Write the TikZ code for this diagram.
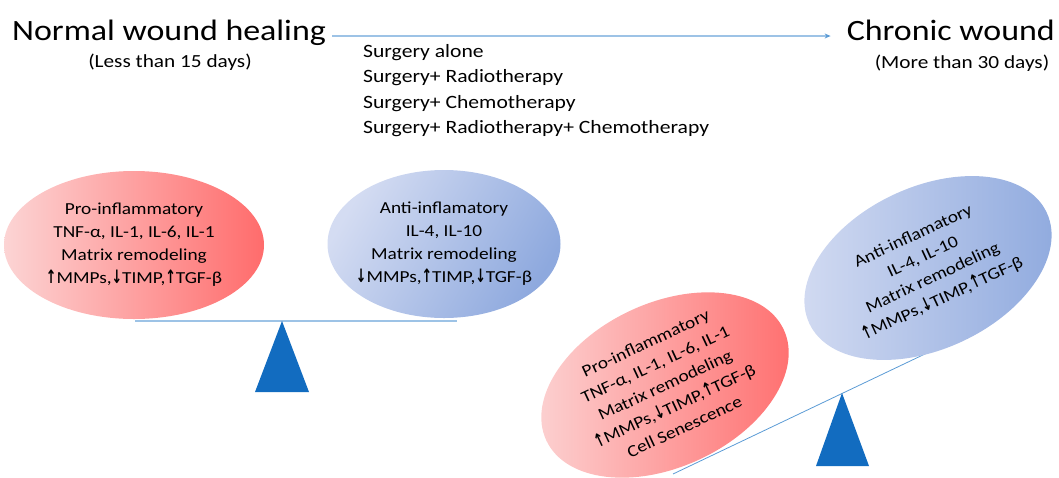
\documentclass[tikz,border=0pt]{standalone}
\usepackage{fontspec}
\setmainfont{Carlito}[FakeStretch=1.15]
\newfontfamily\arrfont{DejaVu Sans}
\usepackage{graphicx}
\usetikzlibrary{shapes.geometric, arrows.meta}

\definecolor{pinklight}{RGB}{252,212,212}
\definecolor{pinkdark}{RGB}{255,108,108}
\definecolor{bluelight}{RGB}{212,220,242}
\definecolor{bluedark}{RGB}{142,169,222}
\definecolor{beamblue}{RGB}{157,195,230}
\definecolor{linkblue}{RGB}{91,155,213}
\definecolor{pivotblue}{RGB}{18,108,192}

\newcommand{\upar}{{\arrfont\bfseries\scalebox{0.75}[1.1]{↑}}}
\newcommand{\dnar}{{\arrfont\bfseries\scalebox{0.75}[1.1]{↓}}}

\tikzset{
  problob/.style={ellipse, minimum width=260pt, minimum height=148pt,
    left color=pinklight, right color=pinkdark, align=center,
    font=\fontsize{16.8}{23}\selectfont},
  antiblob/.style={ellipse, minimum width=233pt, minimum height=148pt,
    inner sep=-12pt, left color=bluelight, right color=bluedark,
    shading angle=60, align=center, font=\fontsize{16.8}{23}\selectfont},
  pivot/.style={fill=pivotblue},
}

\begin{document}
\begin{tikzpicture}[x=1pt, y=-1pt]
    \useasboundingbox (0,0) rectangle (1059,477);

    % headings
    \node[anchor=base west, inner sep=0pt, font=\fontsize{29.5}{36}\selectfont]
      (normal) at (12,40) {Normal wound healing};
    \node[inner sep=0pt, font=\fontsize{18.5}{20}\selectfont]
      (lessdays) at (170,62) {(Less than 15 days)};
    \node[anchor=base east, inner sep=0pt, font=\fontsize{29.5}{36}\selectfont]
      (chronic) at (1055,40) {Chronic wound};
    \node[inner sep=0pt, font=\fontsize{18.5}{20}\selectfont]
      (moredays) at (962,63) {(More than 30 days)};
    \draw[linkblue!60, line width=1.2pt, -{Stealth[length=6pt, width=5pt, linkblue]},
      shorten <=6pt, shorten >=16pt] (normal.east |- 0,36) -- (chronic.west |- 0,36);

    \node[anchor=north west, inner sep=0pt, align=left,
      font=\fontsize{18.8}{25.5}\selectfont] (therapy) at (363,44)
      {Surgery alone\\ Surgery+ Radiotherapy\\ Surgery+ Chemotherapy\\
       Surgery+ Radiotherapy+ Chemotherapy};

    % balanced scale
    \coordinate (pivL) at (282,321);
    \draw[beamblue, line width=1.5pt] (135,321) -- (457,321);
    \fill[pivot] (pivL) -- ++(-27,71) -- ++(54,0) -- cycle;

    \node[problob] (proL) at (134,245)
      {Pro-inflammatory\\ TNF-α, IL-1, IL-6, IL-1\\ Matrix remodeling\\
       \upar MMPs,\dnar TIMP,\upar TGF-β};
    \node[antiblob] (antiL) at (444,244)
      {Anti-inflamatory\\ IL-4, IL-10\\ Matrix remodeling\\
       \dnar MMPs,\upar TIMP,\dnar TGF-β};

    % tipped scale
    \coordinate (pivR) at (842,393);
    \draw[linkblue, line width=0.8pt] (673,474) -- (948,343);
    \fill[pivot] (pivR) -- ++(-26,73) -- ++(53,0) -- cycle;

    \node[problob, rotate=25, minimum width=262pt, minimum height=164pt] (proR) at (665,385)
      {Pro-inflammatory\\ TNF-α, IL-1, IL-6, IL-1\\ Matrix remodeling\\
       \upar MMPs,\dnar TIMP,\upar TGF-β\\ Cell Senescence};
    \node[antiblob, rotate=25, minimum width=262pt, minimum height=162pt,
      shading angle=90] (antiR) at (928,268)
      {Anti-inflamatory\\ IL-4, IL-10\\ Matrix remodeling\\
       \upar MMPs,\dnar TIMP,\upar TGF-β};
\end{tikzpicture}
\end{document}
